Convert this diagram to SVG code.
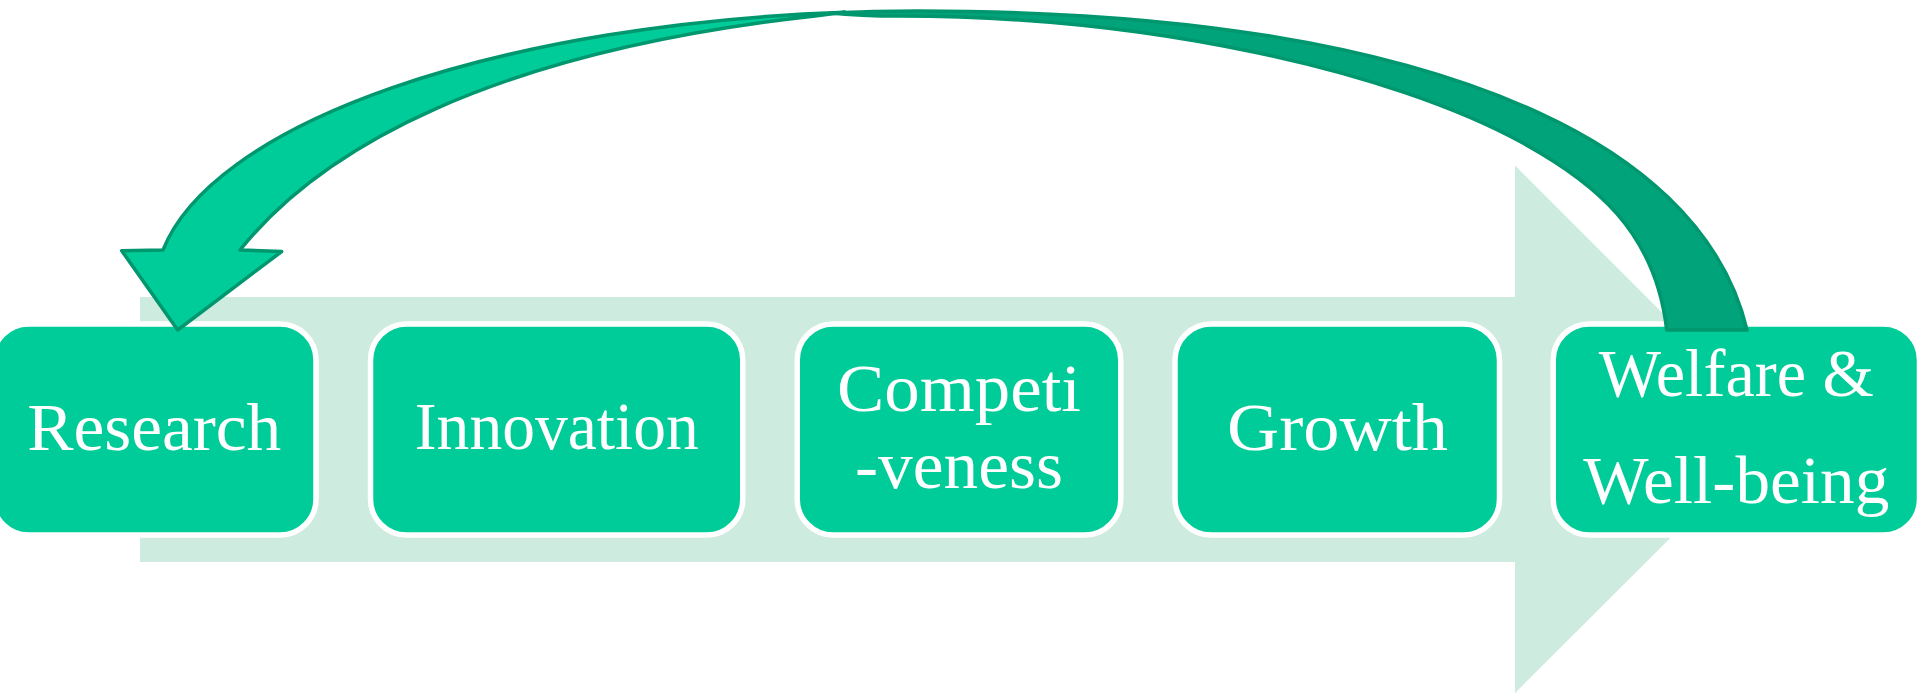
<svg xmlns="http://www.w3.org/2000/svg" width="1920" height="693" viewBox="0 0 1920 693">
  <style>
    .box { fill: #00CC99; stroke: #FFFFFF; stroke-width: 5.5; }
    .lbl { fill: #FFFFFF; font-family: "Liberation Serif", "DejaVu Serif", serif; font-size: 68px; text-anchor: middle; }
    .front { fill: #00CC99; stroke: #00966E; stroke-width: 3.5; stroke-linejoin: round; }
    .back { fill: #00A37A; stroke: #00966E; stroke-width: 3.5; stroke-linejoin: round; }
  </style>
  <rect width="1920" height="693" fill="#FFFFFF"/>
  <g id="flow-arrow">
    <polygon points="140,297 1515,297 1515,165.5 1779,429.5 1515,693 1515,562 140,562" fill="#CDEBDF"/>
  </g>
  <g id="node-research">
    <rect class="box" x="-7.5" y="324" width="323.5" height="211" rx="36"/>
    <text class="lbl" x="154.2" y="449.5" textLength="254" lengthAdjust="spacingAndGlyphs">Research</text>
  </g>
  <g id="node-innovation">
    <rect class="box" x="370.5" y="324" width="372.3" height="211" rx="36"/>
    <text class="lbl" x="556.8" y="449" textLength="284" lengthAdjust="spacingAndGlyphs">Innovation</text>
  </g>
  <g id="node-competitiveness">
    <rect class="box" x="797.2" y="324" width="323.6" height="211" rx="36"/>
    <text class="lbl" x="959" y="411" textLength="244" lengthAdjust="spacingAndGlyphs">Competi</text>
    <text class="lbl" x="959" y="487.7" textLength="208" lengthAdjust="spacingAndGlyphs">-veness</text>
  </g>
  <g id="node-growth">
    <rect class="box" x="1175" y="324" width="324.5" height="211" rx="36"/>
    <text class="lbl" x="1337.5" y="449.5" textLength="221" lengthAdjust="spacingAndGlyphs">Growth</text>
  </g>
  <g id="node-welfare">
    <rect class="box" x="1553.2" y="324" width="366.3" height="211" rx="36"/>
    <text class="lbl" x="1736.3" y="395.7" textLength="275" lengthAdjust="spacingAndGlyphs">Welfare &amp;</text>
    <text class="lbl" x="1736.3" y="502.7" textLength="306" lengthAdjust="spacingAndGlyphs">Well-being</text>
  </g>
  <g id="connectors">
    <path class="back" d="M830,12.9 A762 279 0 0 1 918,11 C1180,11 1390,44.3 1540,113.3 C1630.8,155.1 1721.7,223.3 1747,330 L1666.7,330 C1655.4,230.6 1593.4,181.9 1523.3,143.3 C1391.9,71 1150,16 900,16 C870,16 850,15 830,12.9 Z"/>
    <path class="front" d="M121.7,250.7 L163,250 A762 279 0 0 1 845,12.3 C830,14 825,15 815,16 C490,52 321,149 240,250 L281.7,251.5 L177.7,330 Z"/>
  </g>
</svg>
